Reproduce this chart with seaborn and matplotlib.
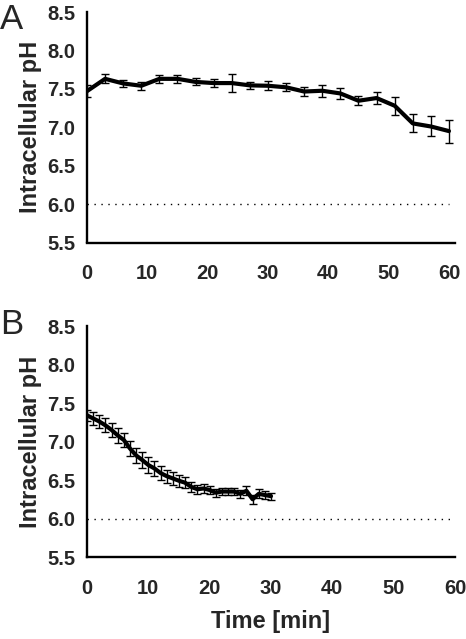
import numpy as np
import pandas as pd
import matplotlib
matplotlib.use("Agg")
import matplotlib.pyplot as plt
import seaborn as sns

# Panel A data (every 3 min)
time_a = [0, 3, 6, 9, 12, 15, 18, 21, 24, 27, 30, 33, 36, 39, 42, 45, 48, 51, 54, 57, 60]
ph_a = [7.47, 7.63, 7.57, 7.54, 7.63, 7.63, 7.59, 7.575, 7.575, 7.545, 7.54, 7.52,
        7.465, 7.475, 7.44, 7.345, 7.38, 7.28, 7.05, 7.01, 6.95]
err_a = [0.08, 0.06, 0.05, 0.055, 0.055, 0.05, 0.045, 0.05, 0.12, 0.045, 0.06, 0.05,
         0.057, 0.08, 0.07, 0.06, 0.077, 0.116, 0.116, 0.13, 0.15]

# Panel B data (every 1 min)
time_b = list(range(0, 31))
ph_b = [7.34, 7.30, 7.26, 7.21, 7.15, 7.08, 7.02, 6.91, 6.82, 6.76, 6.695, 6.65,
        6.59, 6.55, 6.52, 6.49, 6.465, 6.41, 6.38, 6.39, 6.37, 6.335, 6.35, 6.35,
        6.35, 6.32, 6.36, 6.25, 6.32, 6.305, 6.29]
err_b = [0.075, 0.08, 0.085, 0.09, 0.09, 0.095, 0.095, 0.1, 0.1, 0.1, 0.1, 0.095,
         0.09, 0.085, 0.08, 0.075, 0.07, 0.065, 0.06, 0.055, 0.055, 0.05, 0.05, 0.05,
         0.05, 0.05, 0.06, 0.06, 0.06, 0.05, 0.045]

y_ticks = [5.5, 6.0, 6.5, 7.0, 7.5, 8.0, 8.5]
x_ticks = [0, 10, 20, 30, 40, 50, 60]
threshold = 6.0

sns.set_theme(style="white")
plt.rcParams['font.family'] = ['Liberation Sans', 'DejaVu Sans']

W, H = 466, 639
fig = plt.figure(figsize=(W / 100, H / 100), dpi=100)

def box(l, t, r, b):
    return [l / W, 1 - b / H, (r - l) / W, (b - t) / H]

ax_a = fig.add_axes(box(87, 12, 455, 242.5))
ax_b = fig.add_axes(box(87, 326, 455, 557))

panels = [
    (ax_a, time_a, ph_a, err_a, "A", 61),
    (ax_b, time_b, ph_b, err_b, "B", 60),
]

for ax, t, y, e, letter, xmax in panels:
    df = pd.DataFrame({"time": t, "ph": y})
    ax.errorbar(t, y, yerr=e, fmt="none", ecolor="black", elinewidth=1.0,
                capsize=3.2, capthick=1.0, zorder=2)
    sns.lineplot(data=df, x="time", y="ph", ax=ax, color="black", lw=3.0, zorder=3)
    ax.plot([0, 60], [threshold, threshold], color="black", lw=1.0,
            linestyle=(0, (1, 4)), zorder=1)
    ax.set_xlim(0, xmax)
    ax.set_ylim(5.5, 8.5)
    ax.set_yticks(y_ticks)
    ax.set_yticklabels([f"{v:.1f}" for v in y_ticks])
    ax.set_xticks(x_ticks)
    ax.set_xticklabels([str(v) for v in x_ticks])
    for s in ["top", "right"]:
        ax.spines[s].set_visible(False)
    for s in ["left", "bottom"]:
        ax.spines[s].set_color("black")
        ax.spines[s].set_linewidth(1.7)
    ax.tick_params(axis="both", direction="out", length=3.5, width=1.5,
                   color="black", labelsize=14.5, pad=5)
    ax.tick_params(axis="x", pad=12)
    for lab in ax.get_xticklabels() + ax.get_yticklabels():
        lab.set_fontweight("bold")
    ax.set_ylabel("Intracellular pH", fontsize=17, fontweight="bold", labelpad=4)
    ax.set_xlabel("")
    ax.set_facecolor("white")

ax_b.set_xlabel("Time [min]", fontsize=17, fontweight="bold", labelpad=9)

fig.text(0 / W, 1 - 3 / H, "A", fontsize=25, ha="left", va="top")
fig.text(0 / W, 1 - 308 / H, "B", fontsize=25, ha="left", va="top")

fig.savefig("out.png", dpi=100, facecolor="white")
